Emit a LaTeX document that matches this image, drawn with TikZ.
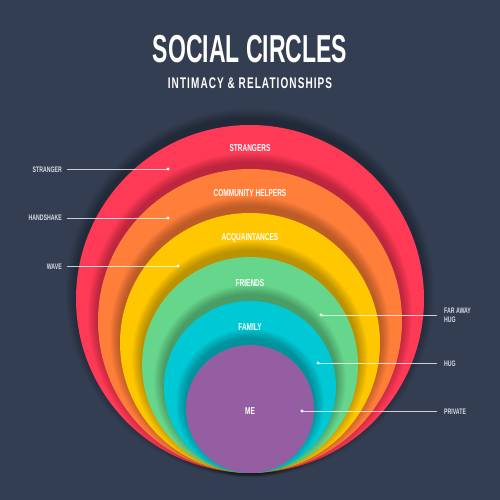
\documentclass[tikz,border=0pt]{standalone}
\usepackage{fontspec}
\setmainfont{Liberation Sans}
\newfontfamily\titlef[FakeStretch=0.59]{Liberation Sans}
\newfontfamily\condf[FakeStretch=0.65]{Liberation Sans}
\newfontfamily\subf[FakeStretch=0.65,LetterSpace=7]{Liberation Sans}
\definecolor{bg}{HTML}{343E52}
\definecolor{cred}{HTML}{FF3A57}
\definecolor{corange}{HTML}{FF7F3A}
\definecolor{cyellow}{HTML}{FFC700}
\definecolor{cgreen}{HTML}{66D68C}
\definecolor{ccyan}{HTML}{00C8D5}
\definecolor{cpurple}{HTML}{955EA2}
\definecolor{lblc}{HTML}{D8DCE3}
\tikzset{
  ring/.style={circle, inner sep=0pt, draw=none},
  intext/.style={text=white, font=\condf\bfseries\fontsize{10}{11}\selectfont, inner sep=0pt},
  sidetext/.style={text=lblc, font=\condf\bfseries\fontsize{8}{9}\selectfont, inner sep=0pt, align=left},
  dotn/.style={circle, fill=white, inner sep=0pt, minimum size=3.2pt},
  leader/.style={white, opacity=0.75, line width=0.8pt},
}
\begin{document}
\begin{tikzpicture}[x=1pt,y=-1pt]
\fill[bg] (0,0) rectangle (500,500);
\useasboundingbox (0,0) rectangle (500,500);
% title
\node[text=white, font=\titlef\bfseries\fontsize{39}{40}\selectfont, inner sep=0pt] (title) at (250,49) {SOCIAL CIRCLES};
\node[text=white, font=\subf\bfseries\fontsize{15.4}{16}\selectfont, inner sep=0pt] (subtitle) at (250,83) {INTIMACY \& RELATIONSHIPS};
% circles with soft upward shadows
\foreach \r/\c/\n in {174/cred/c1,152/corange/c2,130/cyellow/c3,108/cgreen/c4,86/ccyan/c5,64/cpurple/c6}{
  \foreach \i in {1,...,10}{
    \fill[black, opacity=0.028] (250,{473-\r-6}) circle [radius={\r pt+\i pt}];
  }
  \node[ring, fill=\c, minimum size={2*\r pt}] (\n) at (250,{473-\r}) {};
}
% inner labels
\node[intext] (t1) at (250,148) {STRANGERS};
\node[intext] (t2) at (250,193) {COMMUNITY HELPERS};
\node[intext] (t3) at (250,238) {ACQUAINTANCES};
\node[intext] (t4) at (250,283) {FRIENDS};
\node[intext] (t5) at (250,327) {FAMILY};
\node[intext] (t6) at (250,411) {ME};
% dots
\node[dotn] (d1) at (168,169) {};
\node[dotn] (d2) at (168,218) {};
\node[dotn] (d3) at (178,266) {};
\node[dotn] (d4) at (321,315) {};
\node[dotn] (d5) at (318,363) {};
\node[dotn] (d6) at (302,411) {};
% side labels
\node[sidetext, anchor=east] (s1) at (62,170) {STRANGER};
\node[sidetext, anchor=east] (s2) at (62,218) {HANDSHAKE};
\node[sidetext, anchor=east] (s3) at (62,267) {WAVE};
\node[sidetext, anchor=west] (s4) at (444,315) {FAR AWAY\\HUG};
\node[sidetext, anchor=west] (s5) at (444,364) {HUG};
\node[sidetext, anchor=west] (s6) at (444,412) {PRIVATE};
% leaders
\draw[leader] ([xshift=5pt]s1.east |- d1) -- (d1.center);
\draw[leader] ([xshift=5pt]s2.east |- d2) -- (d2.center);
\draw[leader] ([xshift=5pt]s3.east |- d3) -- (d3.center);
\draw[leader] (d4.center) -- ([xshift=-7pt]s4.west |- d4);
\draw[leader] (d5.center) -- ([xshift=-7pt]s5.west |- d5);
\draw[leader] (d6.center) -- ([xshift=-7pt]s6.west |- d6);
\end{tikzpicture}
\end{document}
